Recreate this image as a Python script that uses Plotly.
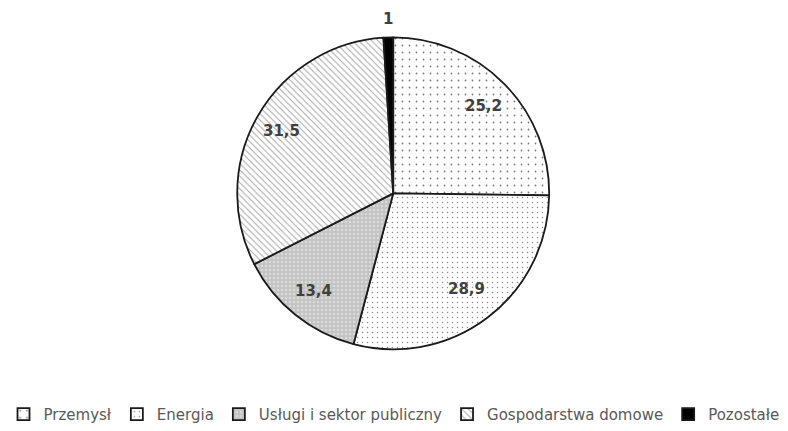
import math
import plotly.graph_objects as go

categories = ["Przemysł", "Energia", "Usługi i sektor publiczny", "Gospodarstwa domowe", "Pozostałe"]
values = [25.2, 28.9, 13.4, 31.5, 1]
value_labels = ["25,2", "28,9", "13,4", "31,5", "1"]

W, H = 788, 431
dom_x = [0.2995, 0.6985]
dom_y = [0.178, 0.912]
label_radius = [0.80, 0.77, 0.80, 0.81, 1.12]

fig = go.Figure(go.Pie(
    labels=categories,
    values=values,
    textinfo="none",
    sort=False,
    direction="clockwise",
    rotation=0,
    marker=dict(
        colors=["white", "white", "#c0c0c0", "white", "black"],
        line=dict(color="#1a1a1a", width=1.8),
        pattern=dict(
            shape=[".", ".", ".", "\\", ""],
            fgcolor=["#7a7a7a", "#8a8a8a", "#ffffff", "#a6a6a6", "black"],
            bgcolor=["white", "white", "#c4c4c4", "white", "black"],
            size=[7, 5, 4, 4.5, 8],
            solidity=[0.05, 0.07, 0.12, 0.22, 0.3],
            fillmode="replace",
        ),
    ),
    domain=dict(x=dom_x, y=dom_y),
    hoverinfo="skip",
))

# data labels placed from the slice mid-angles
cx = (dom_x[0] + dom_x[1]) / 2 * W
cy = (1 - (dom_y[0] + dom_y[1]) / 2) * H
R = (dom_y[1] - dom_y[0]) * H / 2
total = sum(values)
cum = 0.0
for v, lab, rf in zip(values, value_labels, label_radius):
    mid = (cum + v / 2) / total * 2 * math.pi
    cum += v
    px = cx + rf * R * math.sin(mid)
    py = cy - rf * R * math.cos(mid)
    fig.add_annotation(
        x=px / W, y=1 - py / H, xref="paper", yref="paper",
        text=lab, showarrow=False, xanchor="center", yanchor="middle",
        font=dict(family="DejaVu Sans", size=15, color="#404040", weight="bold"),
    )

fig.update_layout(
    width=W, height=H,
    margin=dict(l=0, r=0, t=0, b=0),
    paper_bgcolor="white",
    plot_bgcolor="white",
    showlegend=True,
    legend=dict(
        orientation="h",
        x=0.5, xanchor="center",
        y=-0.014, yanchor="bottom",
        font=dict(family="DejaVu Sans", size=15, color="#595959"),
        itemwidth=30,
        traceorder="normal",
    ),
)

fig.write_html("out.html")
